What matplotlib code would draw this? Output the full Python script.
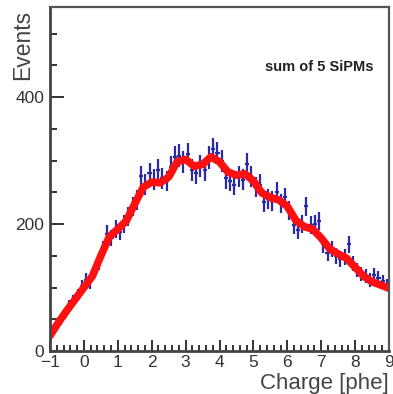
import numpy as np
import matplotlib
matplotlib.use('Agg')
import matplotlib.pyplot as plt
from matplotlib.ticker import MultipleLocator

plt.rcParams['font.family'] = ['Liberation Sans', 'DejaVu Sans']

# histogram: 80 bins from -1 to 9
xmin, xmax = -1.0, 9.0
nbins = 80
counts = [30, 40, 48, 58, 72, 80, 88, 102, 112, 108,
          125, 140, 160, 185, 178, 192, 188, 200, 212, 228,
          238, 275, 262, 280, 270, 285, 272, 268, 290, 305,
          308, 298, 310, 285, 280, 292, 285, 305, 318, 312,
          300, 272, 268, 262, 275, 270, 295, 275, 258, 262,
          235, 240, 236, 250, 232, 242, 222, 198, 190, 200,
          228, 198, 200, 205, 168, 155, 160, 150, 145, 148,
          168, 138, 128, 122, 118, 112, 120, 115, 110, 104]

# fitted curve
fit_x = [-1.0, -0.75, -0.5, -0.25, 0.0, 0.25, 0.5, 0.75, 1.0, 1.25,
         1.5, 1.75, 2.0, 2.25, 2.5, 2.75, 3.0, 3.25, 3.5, 3.75,
         4.0, 4.25, 4.5, 4.75, 5.0, 5.25, 5.5, 5.75, 6.0, 6.25,
         6.5, 6.75, 7.0, 7.25, 7.5, 7.75, 8.0, 8.25, 8.5, 8.75, 9.0]
fit_y = [24, 45, 64, 82, 100, 118, 150, 180, 192, 205,
         232, 258, 266, 265, 274, 298, 302, 291, 294, 306,
         298, 282, 277, 279, 268, 249, 242, 238, 228, 206,
         196, 192, 178, 161, 153, 146, 132, 118, 109, 104, 99]

edges = np.linspace(xmin, xmax, nbins + 1)
centers = 0.5 * (edges[:-1] + edges[1:])
bw = edges[1] - edges[0]
counts = np.array(counts, dtype=float)
errs = np.sqrt(counts)

fig = plt.figure(figsize=(3.93, 3.94), dpi=100)
ax = fig.add_axes([50/393, 43/394, 339/393, 344/394])

ax.errorbar(centers, counts, yerr=errs, xerr=bw/2, fmt='none',
            ecolor='#2a2aa8', elinewidth=1.6, capsize=0)
ax.plot(fit_x, fit_y, color='#ff1010', lw=5.5, solid_capstyle='round',
        solid_joinstyle='round')

ax.set_xlim(xmin, xmax)
ax.set_ylim(0, 542)
ax.xaxis.set_major_locator(MultipleLocator(1))
ax.xaxis.set_minor_locator(MultipleLocator(0.2))
ax.yaxis.set_major_locator(MultipleLocator(200))
ax.yaxis.set_minor_locator(MultipleLocator(50))
ax.tick_params(which='both', direction='in', top=False, right=False,
               colors='#333333', width=1.4, labelsize=12.5, labelcolor='#333333')
ax.tick_params(axis='y', which='major', length=10, pad=4)
ax.tick_params(axis='y', which='minor', length=5)
ax.tick_params(axis='x', which='major', length=8, pad=3)
ax.tick_params(axis='x', which='minor', length=4)
ax.set_xticks(range(-1, 10))
ax.set_xticklabels([str(v).replace('-', '\u2212') for v in range(-1, 10)])

for s in ['left', 'bottom']:
    ax.spines[s].set_linewidth(2.0)
    ax.spines[s].set_color('#444444')
for s in ['top', 'right']:
    ax.spines[s].set_linewidth(1.6)
    ax.spines[s].set_color('#555555')

ax.text(0.953, 0.826, 'sum of 5 SiPMs', transform=ax.transAxes,
        ha='right', va='center', fontsize=10.5, fontweight='bold',
        color='#222222')

fig.text(389/393, 5/394, 'Charge [phe]', ha='right', va='baseline',
         fontsize=16, color='#444444')
fig.text(23/393, 384/394, 'Events', rotation=90, ha='center', va='top',
         fontsize=16.5, color='#444444')

plt.savefig('out.png', dpi=100)
plt.close()
